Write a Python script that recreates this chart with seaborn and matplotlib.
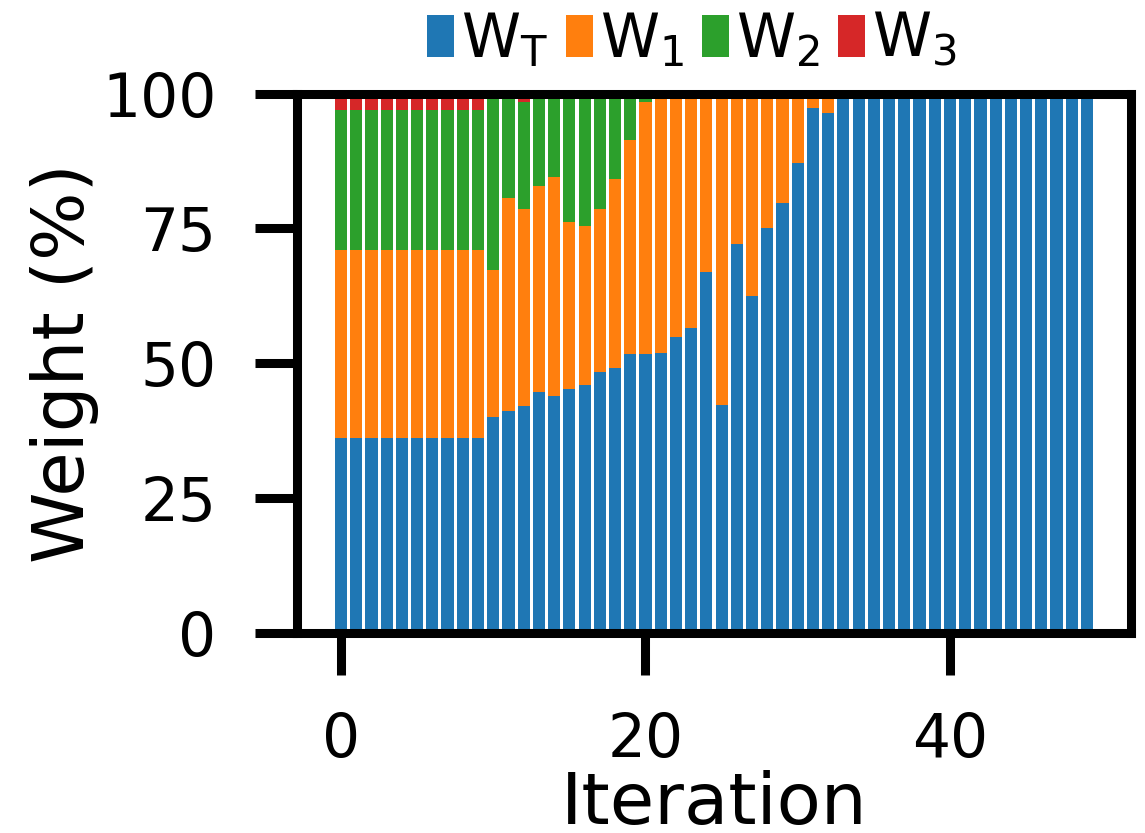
import numpy as np
import pandas as pd
import matplotlib
matplotlib.use("Agg")
import matplotlib.pyplot as plt
from matplotlib.patches import Patch
from matplotlib.ticker import MultipleLocator
import seaborn as sns

iterations = list(range(50))
w_t = [36.1] * 10 + [40.0, 41.1, 42.1, 44.6, 43.9, 45.2, 45.9, 48.3, 49.1, 51.7,
                     51.7, 51.9, 54.8, 56.5, 66.9, 42.2, 72.1, 62.5, 75.1, 79.7,
                     87.2, 97.4, 96.3, 98.9, 100, 100, 98.9, 100, 98.9, 100,
                     100, 100, 98.9, 100, 100, 100, 100, 100, 100, 100]
w_1 = [34.9] * 10 + [27.2, 39.6, 36.5, 38.3, 40.7, 31.0, 29.6, 30.3, 35.1, 39.6,
                     46.8, 48.1, 44.1, 43.5, 33.1, 57.8, 27.9, 37.5, 24.9, 20.3,
                     12.8, 2.6, 3.7, 1.1, 0, 0, 1.1, 0, 1.1, 0,
                     0, 0, 1.1, 0, 0, 0, 0, 0, 0, 0]
w_2 = [26.0] * 10 + [32.8, 19.3, 19.9, 17.1, 15.4, 23.8, 24.5, 21.4, 15.8, 8.7,
                     1.5, 0, 1.1, 0, 0, 0, 0, 0, 0, 0] + [0] * 20
w_3 = [3.0] * 10 + [0, 0, 1.5] + [0] * 37

labels = [r"$\mathregular{W_T}$", r"$\mathregular{W_1}$",
          r"$\mathregular{W_2}$", r"$\mathregular{W_3}$"]
colors = ["#1f77b4", "#ff7f0e", "#2ca02c", "#d62728"]
yticks = [0, 25, 50, 75, 100]

sns.set_theme(style="ticks")
plt.rcParams.update({
    "font.family": ["DejaVu Sans"],
    "text.color": "black",
    "axes.labelcolor": "black",
    "axes.linewidth": 6.5,
    "axes.edgecolor": "black",
    "xtick.major.size": 30,
    "ytick.major.size": 30,
    "xtick.major.width": 6.5,
    "ytick.major.width": 6.5,
    "xtick.major.pad": 26,
    "ytick.major.pad": 28,
    "xtick.labelsize": 43,
    "ytick.labelsize": 43,
    "axes.labelsize": 52,
    "xtick.color": "black",
    "ytick.color": "black",
    "xtick.labelcolor": "black",
    "ytick.labelcolor": "black",
})

fig = plt.figure(figsize=(11.45, 8.33), dpi=100)
ax = fig.add_axes([297 / 1145, (833 - 633) / 833, (1131 - 297) / 1145, (633 - 93.5) / 833])

df = pd.DataFrame({"it": iterations, "WT": w_t, "W1": w_1, "W2": w_2, "W3": w_3})
cum_1 = df["WT"] + df["W1"]
cum_2 = cum_1 + df["W2"]
cum_3 = cum_2 + df["W3"]
for vals, c in [(cum_3, colors[3]), (cum_2, colors[2]), (cum_1, colors[1]), (df["WT"], colors[0])]:
    sns.barplot(x=df["it"], y=vals, native_scale=True, color=c, saturation=1,
                width=0.8, linewidth=0, errorbar=None, ax=ax)

ax.set_xlim(-2.89, 51.89)
ax.set_ylim(0, 100)
ax.set_yticks(yticks)
ax.xaxis.set_major_locator(MultipleLocator(20))
ax.set_xlabel("Iteration", labelpad=0, color="black")
ax.set_ylabel("Weight (%)", labelpad=2, color="black")
for s in ax.spines.values():
    s.set_zorder(5)

handles = [Patch(facecolor=c, edgecolor="none") for c in colors]
leg = fig.legend(handles, labels, loc="center", bbox_to_anchor=(692 / 1145, 1 - 40 / 833),
                 ncol=4, frameon=False, fontsize=43, handlelength=0.45, handleheight=0.7,
                 handletextpad=0.12, columnspacing=0.3, borderaxespad=0, borderpad=0)
for t in leg.get_texts():
    t.set_color("black")

fig.savefig("out.png", dpi=100)
